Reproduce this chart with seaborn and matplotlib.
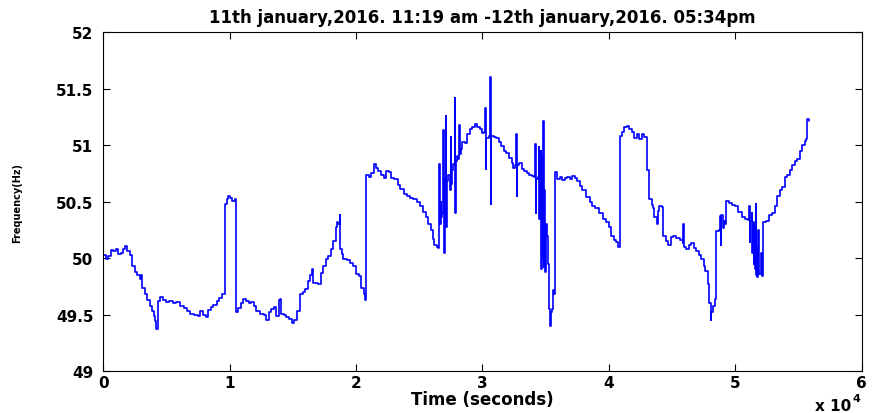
import numpy as np
import pandas as pd
import seaborn as sns
import matplotlib.pyplot as plt

# Time in units of 10^4 seconds, frequency in Hz
time_1e4 = [
    0.00, 0.02, 0.04, 0.06, 0.08, 0.10, 0.12, 0.14, 0.16, 0.17, 0.19, 0.21, 0.23, 0.25, 0.27, 0.29, 0.30,
    0.31, 0.33, 0.35, 0.37, 0.39, 0.40, 0.41, 0.42, 0.43, 0.435, 0.45, 0.47, 0.50, 0.52, 0.55, 0.58, 0.61,
    0.64, 0.66, 0.69, 0.72, 0.75, 0.77, 0.79, 0.81, 0.83, 0.85, 0.87, 0.90, 0.92, 0.94, 0.96,
    0.965, 0.98, 0.99, 1.00, 1.02, 1.04, 1.05, 1.07, 1.09, 1.11, 1.13, 1.15, 1.17, 1.19, 1.21, 1.24,
    1.27, 1.29, 1.31, 1.33, 1.35, 1.37, 1.39, 1.40, 1.41, 1.43, 1.45, 1.47, 1.49, 1.51, 1.53, 1.56,
    1.58, 1.60, 1.62, 1.64, 1.65, 1.66, 1.70, 1.72, 1.74, 1.76, 1.78, 1.80, 1.82, 1.84, 1.85, 1.86,
    1.87, 1.875, 1.89, 1.90, 1.93, 1.95, 1.98, 2.00, 2.02, 2.04, 2.06, 2.07,
    2.08, 2.10, 2.12, 2.14, 2.16, 2.17, 2.20, 2.22, 2.24, 2.26, 2.28, 2.30, 2.33, 2.35, 2.38, 2.40,
    2.43, 2.45, 2.48, 2.51, 2.53, 2.55, 2.57, 2.59, 2.61, 2.62, 2.64, 2.65,
    2.655, 2.66, 2.665, 2.67, 2.675, 2.68, 2.69, 2.695, 2.70, 2.705, 2.71, 2.715, 2.72, 2.73, 2.74,
    2.75, 2.755, 2.76, 2.77, 2.78, 2.785, 2.79, 2.80, 2.81, 2.815, 2.82, 2.83, 2.84, 2.86, 2.88, 2.90,
    2.92, 2.94, 2.96, 2.98, 3.00, 3.01, 3.02, 3.025, 3.03, 3.05, 3.06, 3.065, 3.07, 3.09, 3.11, 3.13,
    3.15, 3.17, 3.19, 3.21, 3.23, 3.24, 3.26, 3.265, 3.27, 3.275, 3.29, 3.31, 3.33, 3.35, 3.37, 3.39,
    3.41, 3.415, 3.42, 3.425, 3.44, 3.445, 3.45, 3.455, 3.46, 3.465, 3.47, 3.475, 3.48, 3.485, 3.49,
    3.495, 3.50, 3.51, 3.52, 3.525, 3.53, 3.535, 3.54, 3.55, 3.555, 3.565,
    3.575, 3.59, 3.61, 3.63, 3.65, 3.67, 3.69, 3.71, 3.73, 3.75, 3.77, 3.79, 3.82, 3.85, 3.87, 3.89,
    3.92, 3.95, 3.98, 4.00, 4.02, 4.04, 4.06, 4.075,
    4.085, 4.10, 4.12, 4.14, 4.16, 4.18, 4.20, 4.22, 4.24, 4.26, 4.28, 4.30, 4.305, 4.32, 4.34, 4.35,
    4.36, 4.38, 4.39, 4.40, 4.42, 4.43, 4.45, 4.47, 4.49, 4.51, 4.53, 4.56, 4.585, 4.59, 4.595, 4.61,
    4.63, 4.65, 4.67, 4.69, 4.71, 4.73, 4.75, 4.76, 4.78, 4.795, 4.805, 4.81, 4.82, 4.84,
    4.85, 4.87, 4.88, 4.885, 4.89, 4.90, 4.91, 4.92, 4.93, 4.95, 4.97, 5.00, 5.02, 5.05, 5.08, 5.10,
    5.11, 5.115, 5.12, 5.13, 5.135, 5.14, 5.145, 5.15, 5.155, 5.16, 5.165, 5.17, 5.175, 5.18, 5.19,
    5.20, 5.21, 5.22, 5.24, 5.27, 5.29, 5.31, 5.33, 5.35, 5.37, 5.39, 5.41, 5.43, 5.45, 5.47, 5.49,
    5.51, 5.53, 5.55, 5.56, 5.565, 5.58,
]

freq_hz = [
    50.03, 49.99, 50.02, 50.07, 50.06, 50.08, 50.04, 50.05, 50.08, 50.11, 50.06, 50.03, 49.93, 49.88, 49.85, 49.82, 49.85,
    49.74, 49.68, 49.63, 49.58, 49.53, 49.49, 49.44, 49.37, 49.47, 49.62, 49.66, 49.63, 49.61, 49.62, 49.60, 49.61, 49.58,
    49.56, 49.53, 49.51, 49.50, 49.49, 49.53, 49.50, 49.48, 49.54, 49.57, 49.59, 49.62, 49.65, 49.68, 49.69,
    50.48, 50.52, 50.55, 50.53, 50.51, 50.52, 49.52, 49.56, 49.60, 49.64, 49.62, 49.60, 49.61, 49.58, 49.53, 49.51,
    49.50, 49.45, 49.52, 49.55, 49.57, 49.49, 49.63, 49.64, 49.51, 49.50, 49.48, 49.46, 49.43, 49.45, 49.53, 49.68,
    49.70, 49.73, 49.80, 49.85, 49.90, 49.78, 49.77, 49.87, 49.93, 49.99, 50.02, 50.08, 50.15, 50.28, 50.32, 50.30,
    50.38, 50.08, 50.04, 49.99, 49.98, 49.96, 49.93, 49.86, 49.84, 49.74, 49.68, 49.63,
    50.74, 50.72, 50.75, 50.83, 50.80, 50.77, 50.74, 50.71, 50.77, 50.76, 50.71, 50.70, 50.65, 50.61, 50.57, 50.55,
    50.53, 50.52, 50.50, 50.46, 50.41, 50.36, 50.30, 50.25, 50.17, 50.12, 50.10, 50.09,
    50.45, 50.83, 50.30, 50.50, 50.36, 50.40, 51.13, 50.05, 50.55, 50.70, 51.26, 50.28, 50.68, 50.74, 50.60,
    51.07, 50.66, 50.78, 50.83, 51.42, 50.40, 50.86, 50.90, 50.88, 51.18, 50.92, 50.97, 51.03, 51.02, 51.10, 51.14,
    51.16, 51.19, 51.16, 51.14, 51.11, 51.12, 51.33, 50.79, 51.06, 51.08, 51.60, 50.48, 51.08, 51.07, 51.06, 51.03,
    50.99, 50.95, 50.93, 50.89, 50.84, 50.80, 50.82, 51.10, 50.55, 50.82, 50.84, 50.79, 50.77, 50.75, 50.74, 50.73,
    50.72, 51.01, 50.40, 50.70, 50.72, 50.98, 50.35, 50.72, 50.95, 49.90, 50.90, 50.00, 51.21, 49.92, 50.60,
    49.88, 50.30, 50.20, 49.95, 49.65, 49.55, 49.40, 49.52, 49.55, 49.72, 49.68,
    50.76, 50.70, 50.72, 50.69, 50.71, 50.72, 50.70, 50.73, 50.71, 50.68, 50.64, 50.60, 50.54, 50.50, 50.46, 50.44,
    50.40, 50.35, 50.32, 50.28, 50.20, 50.16, 50.14, 50.10,
    51.08, 51.12, 51.16, 51.17, 51.14, 51.12, 51.06, 51.10, 51.05, 51.10, 51.07, 51.06, 50.78, 50.52, 50.47, 50.44,
    50.36, 50.30, 50.42, 50.46, 50.45, 50.20, 50.15, 50.12, 50.19, 50.20, 50.18, 50.16, 50.13, 50.30, 50.10, 50.08,
    50.12, 50.13, 50.09, 50.06, 50.03, 49.99, 49.93, 49.89, 49.77, 49.60, 49.45, 49.52, 49.58, 49.64,
    50.24, 50.25, 50.37, 50.12, 50.38, 50.27, 50.33, 50.30, 50.51, 50.49, 50.47, 50.46, 50.41, 50.36, 50.35, 50.34,
    50.46, 50.14, 50.33, 50.40, 50.05, 50.32, 49.95, 50.30, 49.90, 50.48, 49.85, 50.10, 49.83, 50.25, 49.86,
    50.05, 49.84, 50.32, 50.33, 50.38, 50.40, 50.46, 50.55, 50.60, 50.63, 50.72, 50.74, 50.78, 50.82, 50.86, 50.88,
    50.95, 51.00, 51.04, 51.05, 51.23, 51.21,
]

x_ticks = [0, 1, 2, 3, 4, 5, 6]
y_ticks = [49, 49.5, 50, 50.5, 51, 51.5, 52]
y_tick_labels = ['49', '49.5', '50', '50.5', '51', '51.5', '52']

df = pd.DataFrame({'t': time_1e4, 'f': freq_hz})

sns.set_style('ticks', {'xtick.direction': 'in', 'ytick.direction': 'in'})
plt.rcParams['font.family'] = ['DejaVu Sans']
plt.rcParams['text.color'] = 'black'
plt.rcParams['axes.labelcolor'] = 'black'
plt.rcParams['xtick.color'] = 'black'
plt.rcParams['ytick.color'] = 'black'

fig = plt.figure(figsize=(8.74, 4.14), dpi=100)
ax = fig.add_axes([0.118, 0.101, 0.868, 0.819])

sns.lineplot(data=df, x='t', y='f', ax=ax, color='#0000ff', linewidth=1.2,
             estimator=None, sort=False, drawstyle='steps-post')

ax.set_xlim(0, 6)
ax.set_ylim(49, 52)
ax.set_xticks(x_ticks)
ax.set_xticklabels([str(v) for v in x_ticks])
ax.set_yticks(y_ticks)
ax.set_yticklabels(y_tick_labels)
ax.tick_params(axis='both', which='both', direction='in', top=True, right=True,
               length=5, width=0.8, labelsize=11, colors='black')
ax.tick_params(axis='x', pad=3)
ax.tick_params(axis='y', pad=7)
for lab in ax.get_xticklabels() + ax.get_yticklabels():
    lab.set_fontweight('bold')
for sp in ax.spines.values():
    sp.set_visible(True)
    sp.set_linewidth(0.8)
    sp.set_color('black')

ax.set_title('11th january,2016. 11:19 am -12th january,2016. 05:34pm',
             fontsize=12, fontweight='bold', pad=7, color='black')
ax.set_xlabel('Time (seconds)', fontsize=12, fontweight='bold', labelpad=0)
ax.set_ylabel('Frequency(Hz)', fontsize=7, fontweight='bold', labelpad=24)

fig.text(0.932, 0.008, 'x 10', fontsize=11, fontweight='bold', color='black')
fig.text(0.975, 0.030, '4', fontsize=8, fontweight='bold', color='black')

fig.savefig('out.png', dpi=100)
